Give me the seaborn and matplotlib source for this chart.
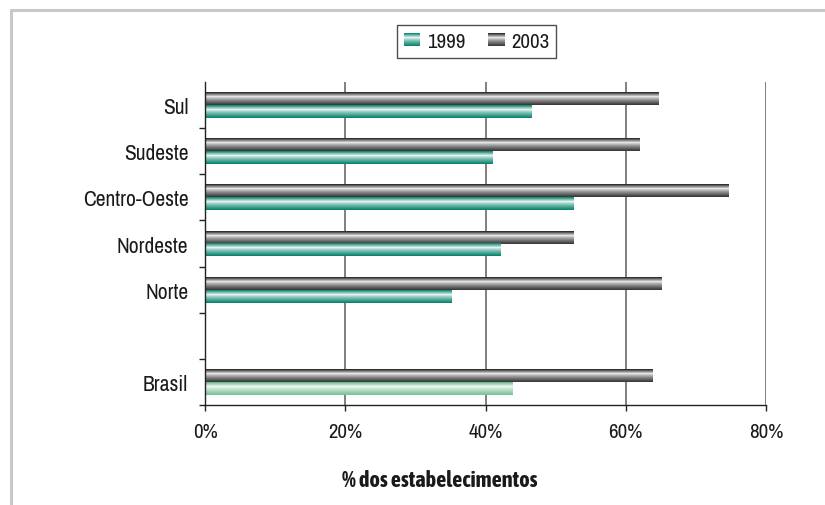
import numpy as np
import pandas as pd
import matplotlib
matplotlib.use("Agg")
import matplotlib.pyplot as plt
import seaborn as sns
from matplotlib import font_manager
from matplotlib.lines import Line2D
from matplotlib.patches import Rectangle
from matplotlib.legend_handler import HandlerBase
from matplotlib.colors import to_rgb

# ---- data -------------------------------------------------------------
regions = ["Sul", "Sudeste", "Centro-Oeste", "Nordeste", "Norte", "", "Brasil"]
share_1999 = [46.5, 41.0, 52.5, 42.1, 35.2, np.nan, 43.9]
share_2003 = [64.7, 62.0, 74.7, 52.5, 65.1, np.nan, 63.8]
years = ["1999", "2003"]
x_ticks = [0, 20, 40, 60, 80]
x_tick_labels = ["0%", "20%", "40%", "60%", "80%"]
x_label = "% dos estabelecimentos"

df = pd.DataFrame({
    "region": regions * 2,
    "year": ["1999"] * len(regions) + ["2003"] * len(regions),
    "value": share_1999 + share_2003,
})

# ---- fonts ------------------------------------------------------------
sns.set_theme(style="white")
fonts = font_manager.fontManager.ttflist


def is_bold(f):
    w = f.weight
    return (isinstance(w, (int, float)) and w >= 600) or str(w).lower() in ("bold", "semibold", "demibold", "heavy", "black")


narrow = sorted({f.name for f in fonts if "Narrow" in f.name or "Condensed" in f.name})
narrow_bold = sorted({f.name for f in fonts
                      if ("Narrow" in f.name or "Condensed" in f.name) and is_bold(f)})
if narrow:
    plt.rcParams["font.family"] = [narrow[0], "DejaVu Sans"]
    FS = 15
else:
    plt.rcParams["font.family"] = ["DejaVu Sans"]
    plt.rcParams["font.stretch"] = "condensed"
    FS = 13
bold_family = [narrow_bold[0], "DejaVu Sans"] if narrow_bold else plt.rcParams["font.family"]
TXT = "#1a1a1a"


def banded(top, light, bottom, n=13, peak=0.36):
    """Cylinder-like shading: dark edges, light band near the upper middle."""
    top, light, bottom = map(np.array, map(to_rgb, (top, light, bottom)))
    rows = []
    for i in range(n):
        t = (i + 0.5) / n
        if t < peak:
            s = ((peak - t) / peak) ** 1.0
            rows.append(light + (top - light) * s)
        else:
            s = ((t - peak) / (1 - peak)) ** 0.75
            rows.append(light + (bottom - light) * s)
    return np.clip(np.array(rows), 0, 1)


grad_2003 = banded("#1a1a1a", "#ededed", "#333333")
grad_1999 = banded("#00806a", "#eef8f5", "#00806a")
grad_brasil = banded("#68b88b", "#f4faf6", "#74c096")

# ---- figure -----------------------------------------------------------
W, H = 825, 506
fig = plt.figure(figsize=(W / 100, H / 100), dpi=100)
fig.patch.set_facecolor("white")

# outer frame (left and top edges only)
frame_kw = dict(color="#c8c8c8", lw=2.2, transform=fig.transFigure)
fig.add_artist(Line2D([11 / W, 11 / W], [0, 1 - 11 / H], **frame_kw))
fig.add_artist(Line2D([11 / W, 1], [1 - 11 / H, 1 - 11 / H], **frame_kw))

ax = fig.add_axes([205 / W, 1 - 406 / H, (766 - 205) / W, (406 - 83) / H])

sns.barplot(data=df, y="region", x="value", hue="year",
            hue_order=["2003", "1999"], order=regions, orient="h",
            width=0.56, dodge=True, legend=False, ax=ax,
            palette={"2003": "#555555", "1999": "#00806a"},
            saturation=1, err_kws={"linewidth": 0})

ax.set_xlim(0, 80)
ylim = ax.get_ylim()
xlim = ax.get_xlim()

# shade each bar with a banded gradient
for p in list(ax.patches):
    w = p.get_width()
    if not np.isfinite(w) or w <= 0:
        continue
    y0, h = p.get_y(), p.get_height()
    yc = y0 + h / 2
    idx = int(round(yc))
    if yc < idx:
        g = grad_2003
    else:
        g = grad_brasil if regions[idx] == "Brasil" else grad_1999
    p.set_facecolor("none")
    p.set_edgecolor("none")
    ax.imshow(g[:, None, :], extent=[p.get_x(), p.get_x() + w, y0 + h, y0],
              aspect="auto", interpolation="nearest", zorder=2)

ax.set_xlim(xlim)
ax.set_ylim(ylim)

# axes styling
ax.set_axisbelow(True)
ax.xaxis.grid(True, color="#6a6a6a", lw=1.2)
ax.yaxis.grid(False)
for s in ["top", "right"]:
    ax.spines[s].set_visible(False)
for s in ["left", "bottom"]:
    ax.spines[s].set_color("#222222")
    ax.spines[s].set_linewidth(1.0)
ax.spines["left"].set_zorder(3)

ax.set_xticks(x_ticks)
ax.set_xticklabels(x_tick_labels, fontsize=FS, color=TXT)
ax.tick_params(axis="x", which="major", direction="out", length=4,
               width=1.0, color="#222222", pad=8, bottom=True)

ax.set_yticks(np.arange(0.5, len(regions), 1.0))
ax.set_yticklabels([])
ax.set_yticks(np.arange(len(regions)), minor=True)
ax.set_yticklabels(regions, minor=True, fontsize=FS + 0.5, color=TXT)
ax.tick_params(axis="y", which="major", direction="out", length=4,
               width=1.0, color="#222222", left=True)
ax.tick_params(axis="y", which="minor", length=0, pad=12)
ax.set_xlabel("")
ax.set_ylabel("")

fig.text(440 / W, 1 - 481 / H, x_label, ha="center", va="center",
         fontsize=FS + 1, fontweight="bold", family=bold_family, color=TXT)


# legend with banded swatches
class BandHandler(HandlerBase):
    def __init__(self, colors):
        super().__init__()
        self.colors = colors

    def create_artists(self, legend, orig_handle, xdescent, ydescent,
                       width, height, fontsize, trans):
        n = len(self.colors)
        arts = []
        for i, c in enumerate(self.colors):
            y = -ydescent + height * (1 - (i + 1) / n)
            arts.append(Rectangle((-xdescent, y), width, height / n,
                                  facecolor=c, edgecolor="none",
                                  transform=trans))
        return arts


h1999 = Rectangle((0, 0), 1, 1)
h2003 = Rectangle((0, 0), 1, 1)
leg = fig.legend([h1999, h2003], years, loc="center",
                 bbox_to_anchor=(476.5 / W, 1 - 42.5 / H), ncol=2,
                 handler_map={h1999: BandHandler(grad_1999),
                              h2003: BandHandler(grad_2003)},
                 frameon=True, fancybox=False, edgecolor="#222222",
                 fontsize=FS, handlelength=0.8, handleheight=0.6,
                 handletextpad=0.3, columnspacing=1.1, borderpad=0.35,
                 borderaxespad=0)
leg.get_frame().set_linewidth(1.0)
for t in leg.get_texts():
    t.set_color(TXT)

fig.savefig("out.png", dpi=100, facecolor="white")
